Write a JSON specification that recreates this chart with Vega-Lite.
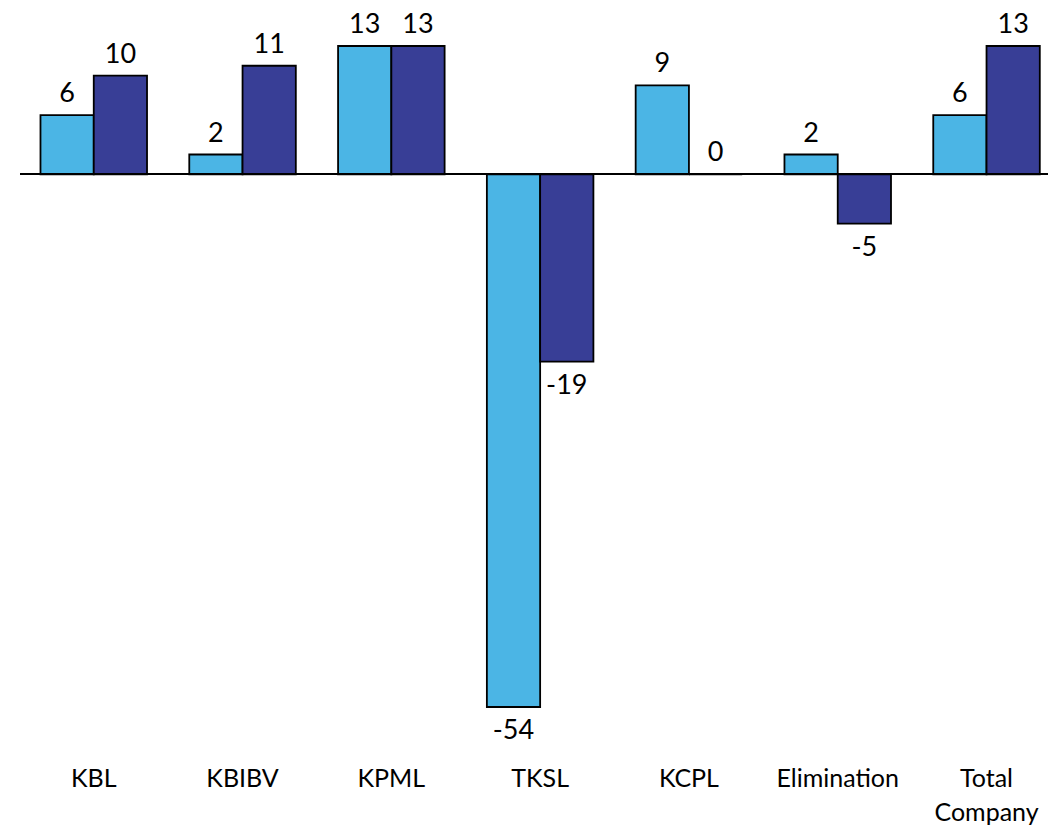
{
  "$schema": "https://vega.github.io/schema/vega-lite/v6.json",
  "width": 1028,
  "height": 661,
  "autosize": {"type": "none"},
  "padding": {"left": 20, "top": 46, "right": 0, "bottom": 121},
  "background": "white",
  "config": {"view": {"stroke": null}},
  "data": {
    "values": [
      {"entity": "KBL", "series": "Series 1", "value": 6},
      {"entity": "KBL", "series": "Series 2", "value": 10},
      {"entity": "KBIBV", "series": "Series 1", "value": 2},
      {"entity": "KBIBV", "series": "Series 2", "value": 11},
      {"entity": "KPML", "series": "Series 1", "value": 13},
      {"entity": "KPML", "series": "Series 2", "value": 13},
      {"entity": "TKSL", "series": "Series 1", "value": -54},
      {"entity": "TKSL", "series": "Series 2", "value": -19},
      {"entity": "KCPL", "series": "Series 1", "value": 9},
      {"entity": "KCPL", "series": "Series 2", "value": 0},
      {"entity": "Elimination", "series": "Series 1", "value": 2},
      {"entity": "Elimination", "series": "Series 2", "value": -5},
      {"entity": "Total Company", "series": "Series 1", "value": 6},
      {"entity": "Total Company", "series": "Series 2", "value": 13}
    ]
  },
  "encoding": {
    "x": {
      "field": "entity",
      "type": "nominal",
      "sort": null,
      "scale": {"paddingInner": 0.284, "paddingOuter": 0.0964, "align": 0.714},
      "axis": {
        "title": null,
        "domain": false,
        "ticks": false,
        "tickSize": 0,
        "labelAngle": 0,
        "labelPadding": 79,
        "labelBaseline": "alphabetic",
        "labelFont": "Lato",
        "labelFontSize": 25,
        "labelColor": "#000000",
        "labelLineHeight": 34,
        "labelLimit": 300,
        "labelOverlap": false,
        "labelExpr": "datum.label == 'Total Company' ? ['Total', 'Company'] : datum.label"
      }
    },
    "xOffset": {
      "field": "series",
      "type": "nominal",
      "sort": null,
      "scale": {"paddingInner": 0, "paddingOuter": 0}
    },
    "y": {
      "field": "value",
      "type": "quantitative",
      "scale": {"domain": [-54, 13], "nice": false, "zero": true},
      "axis": null
    }
  },
  "layer": [
    {
      "mark": {"type": "bar", "stroke": "#000000", "strokeWidth": 1.8},
      "encoding": {
        "color": {
          "field": "series",
          "type": "nominal",
          "scale": {"domain": ["Series 1", "Series 2"], "range": ["#4BB5E5", "#383E96"]},
          "legend": null
        }
      }
    },
    {
      "transform": [{"filter": "datum.value >= 0"}],
      "mark": {"type": "text", "font": "Lato", "fontSize": 27, "color": "#000000", "baseline": "alphabetic", "align": "center", "dy": -13},
      "encoding": {"text": {"field": "value", "type": "nominal"}}
    },
    {
      "transform": [{"filter": "datum.value < 0"}],
      "mark": {"type": "text", "font": "Lato", "fontSize": 27, "color": "#000000", "baseline": "alphabetic", "align": "center", "dy": 32},
      "encoding": {"text": {"field": "value", "type": "nominal"}}
    },
    {
      "mark": {"type": "rule", "color": "#000000", "strokeWidth": 1.6},
      "encoding": {"y": {"datum": 0}, "x": null, "xOffset": null}
    }
  ]
}
